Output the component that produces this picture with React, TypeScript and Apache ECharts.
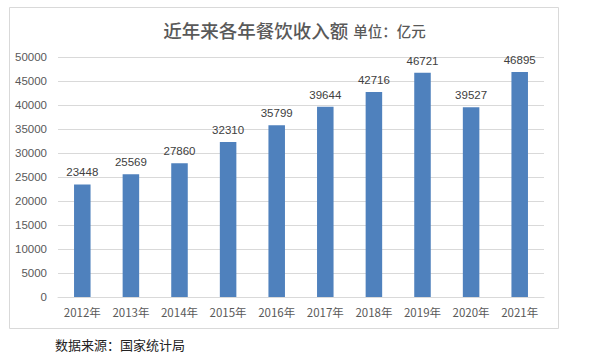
import React, { useEffect, useRef } from "react";
import * as echarts from "echarts";

const categories = ["2012年", "2013年", "2014年", "2015年", "2016年", "2017年", "2018年", "2019年", "2020年", "2021年"];
const revenue = [23448, 25569, 27860, 32310, 35799, 39644, 42716, 46721, 39527, 46895];
const titleMain = "近年来各年餐饮收入额";
const titleUnit = "单位：亿元";
const sourceText = "数据来源：国家统计局";

export default function App() {
  const ref = useRef<HTMLDivElement>(null);
  useEffect(() => {
    if (!ref.current) return;
    const chart = echarts.init(ref.current, null, { renderer: "svg" });
    chart.setOption({
      animation: false,
      backgroundColor: "#ffffff",
      title: {
        text: "{a|" + titleMain + "} {b|" + titleUnit + "}",
        left: "center",
        top: 16,
        textStyle: {
          rich: {
            a: { fontSize: 18.5, color: "#595959", fontFamily: "Noto Sans CJK SC", fontWeight: 500 },
            b: { fontSize: 14.5, color: "#595959", fontFamily: "Noto Sans CJK SC", fontWeight: 500 },
          },
        },
      },
      graphic: [
        {
          type: "rect",
          shape: { x: 9.5, y: 7.5, width: 549, height: 321 },
          style: { fill: "none", stroke: "#d9d9d9", lineWidth: 1 },
          silent: true,
        },
        {
          type: "text",
          x: 55,
          y: 344,
          style: {
            text: sourceText,
            fontSize: 13,
            fill: "#222222",
            fontFamily: "Noto Sans CJK SC",
            verticalAlign: "middle",
          },
        },
      ],
      grid: { left: 58, right: 45, top: 57, bottom: 57, containLabel: false },
      xAxis: {
        type: "category",
        data: categories,
        axisLine: { show: true, lineStyle: { color: "#d9d9d9" } },
        axisTick: { show: false },
        axisLabel: { color: "#595959", fontSize: 11.5, fontFamily: "Noto Sans CJK SC", margin: 9 },
      },
      yAxis: {
        type: "value",
        min: 0,
        max: 50000,
        interval: 5000,
        axisLine: { show: false },
        axisTick: { show: false },
        splitLine: { lineStyle: { color: "#d9d9d9" } },
        axisLabel: {
          color: "#595959",
          fontSize: 11.5,
          fontFamily: "Liberation Sans",
          margin: 11,
          formatter: (v: number) => String(v),
        },
      },
      series: [
        {
          type: "bar",
          data: revenue,
          barWidth: "34%",
          itemStyle: { color: "#4f81bd" },
          label: {
            show: true,
            position: "top",
            distance: 6,
            color: "#404040",
            fontSize: 11.5,
            fontFamily: "Liberation Sans",
          },
        },
      ],
    });
    return () => chart.dispose();
  }, []);
  return (
    <div
      ref={ref}
      style={{ position: "fixed", left: 0, top: 0, width: 589, height: 354 }}
    />
  );
}
